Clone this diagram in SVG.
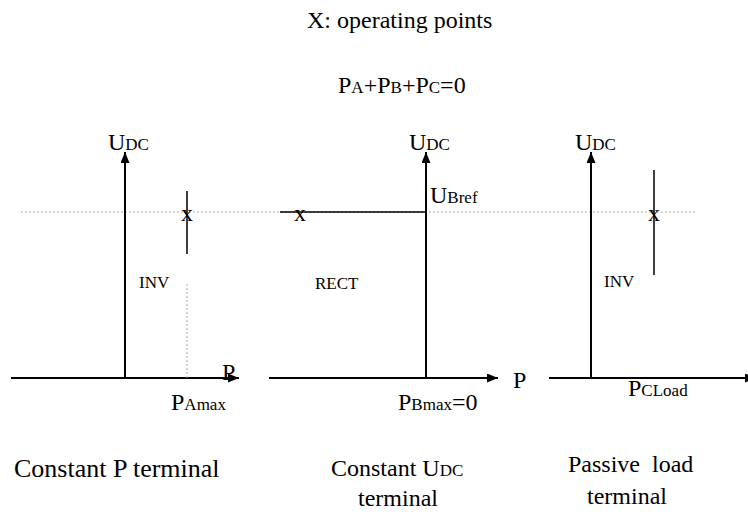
<svg xmlns="http://www.w3.org/2000/svg" width="748" height="514" viewBox="0 0 748 514">
<style>
text{font-family:"Liberation Serif","Times New Roman",serif;fill:#000}
.b{font-size:24px}
.s{font-size:17px}
.l{font-size:26px}
.ax{stroke:#000;stroke-width:2;fill:none}
.ln{stroke:#000;stroke-width:1.5;fill:none}
.dash{stroke:#aaa;stroke-width:1;stroke-dasharray:2,2;fill:none}
</style>
<defs>
<marker id="ah" viewBox="0 0 11 9" refX="11" refY="4.5" markerWidth="11" markerHeight="9" markerUnits="userSpaceOnUse" orient="auto">
<path d="M0,0 L11,4.5 L0,9 Z" fill="#000"/>
</marker>
</defs>
<rect width="748" height="514" fill="#fff"/>
<g id="title">
<text class="b" x="307" y="28">X: operating points</text>
<text x="338" y="93"><tspan class="b">P</tspan><tspan class="s">A</tspan><tspan class="b">+P</tspan><tspan class="s">B</tspan><tspan class="b">+P</tspan><tspan class="s">C</tspan><tspan class="b">=0</tspan></text>
</g>
<g id="connectors">
<line class="dash" x1="21" y1="212" x2="695" y2="212"/>
<line class="ax" x1="125" y1="378" x2="125" y2="152" marker-end="url(#ah)"/>
<line class="ax" x1="11" y1="378" x2="239" y2="378" marker-end="url(#ah)"/>
<line class="ax" x1="426" y1="378" x2="426" y2="152" marker-end="url(#ah)"/>
<line class="ax" x1="269" y1="378" x2="498" y2="378" marker-end="url(#ah)"/>
<line class="ax" x1="591" y1="378" x2="591" y2="152" marker-end="url(#ah)"/>
<line class="ax" x1="549" y1="378" x2="756" y2="378" marker-end="url(#ah)"/>
<line class="ln" x1="187" y1="191" x2="187" y2="254"/>
<line class="dash" x1="187" y1="284" x2="187" y2="378"/>
<line class="ln" x1="280" y1="212" x2="426" y2="212"/>
<line class="ln" x1="654" y1="170" x2="654" y2="275"/>
</g>
<g id="panelA">
<text x="108" y="150"><tspan class="b">U</tspan><tspan class="s">DC</tspan></text>
<text class="b" x="222" y="380">P</text>
<text class="b" x="187" y="221" text-anchor="middle">x</text>
<text class="s" x="139" y="288">INV</text>
<text x="171" y="410"><tspan class="b">P</tspan><tspan class="s">Amax</tspan></text>
<text class="l" x="14" y="477">Constant P terminal</text>
</g>
<g id="panelB">
<text x="409" y="150"><tspan class="b">U</tspan><tspan class="s">DC</tspan></text>
<text x="430" y="203"><tspan class="b">U</tspan><tspan class="s">Bref</tspan></text>
<text class="b" x="513" y="388">P</text>
<text class="b" x="300" y="221" text-anchor="middle">x</text>
<text class="s" x="315" y="289">RECT</text>
<text x="398" y="410"><tspan class="b">P</tspan><tspan class="s">Bmax</tspan><tspan class="b">=0</tspan></text>
<text class="b" x="331" y="476">Constant <tspan>U</tspan><tspan class="s">DC</tspan></text>
<text class="b" x="358" y="506">terminal</text>
</g>
<g id="panelC">
<text x="575" y="150"><tspan class="b">U</tspan><tspan class="s">DC</tspan></text>
<text class="b" x="654" y="221" text-anchor="middle">x</text>
<text class="s" x="604" y="287">INV</text>
<text x="628" y="396"><tspan class="b">P</tspan><tspan class="s">CLoad</tspan></text>
<text class="b" x="568" y="472" xml:space="preserve">Passive  load</text>
<text class="b" x="587" y="504">terminal</text>
</g>
</svg>
